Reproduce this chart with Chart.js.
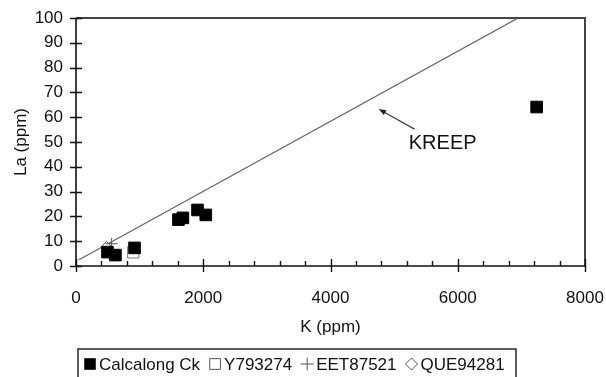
<!DOCTYPE html>
<html>
<head>
<meta charset="utf-8">
<script src="https://cdn.jsdelivr.net/npm/chart.js@4/dist/chart.umd.min.js"></script>
<style>
    html, body { margin: 0; padding: 0; background: #fff; }
    #wrap { width: 606px; height: 377px; }
</style>
</head>
<body>
<div id="wrap"><canvas id="chart"></canvas></div>
<script>
// K (ppm) / La (ppm)
const calcalongK = [495, 620, 920, 1610, 1680, 1910, 2040, 7240];
const calcalongLa = [5.6, 4.4, 7.3, 18.7, 19.4, 22.6, 20.6, 64.1];
const y793274K = [900];
const y793274La = [5.5];
const eet87521K = [560];
const eet87521La = [9.0];
const que94281K = [480];
const que94281La = [7.5];
const kreepK = [40, 6950];
const kreepLa = [2.4, 100];

const seriesNames = ['Calcalong Ck', 'Y793274', 'EET87521', 'QUE94281'];
const xTitle = 'K (ppm)';
const yTitle = 'La (ppm)';
const kreepText = 'KREEP';
const kreepTextAt = [5230, 49.6];
const kreepArrowFrom = [5320, 55.2];
const kreepArrowTo = [4756, 63.3];

const FONT = "'Liberation Sans', Arial, sans-serif";

function toXY(k, la) {
    return k.map((v, i) => ({ x: v, y: la[i] }));
}

// axis lines, box border and the crossing ticks
const frame = {
    id: 'frame',
    afterDatasetsDraw(chart) {
        const { ctx, chartArea: a, scales: { x, y } } = chart;
        ctx.save();
        ctx.strokeStyle = '#444';
        ctx.lineWidth = 2;
        ctx.beginPath();
        ctx.moveTo(a.left, a.top);
        ctx.lineTo(a.right, a.top);
        ctx.lineTo(a.right, a.bottom);
        ctx.stroke();

        ctx.strokeStyle = '#111';
        ctx.lineWidth = 1.6;
        ctx.beginPath();
        ctx.moveTo(a.left, a.top);
        ctx.lineTo(a.left, a.bottom);
        ctx.lineTo(a.right, a.bottom);
        ctx.stroke();

        ctx.lineWidth = 1.4;
        ctx.beginPath();
        for (let v = 0; v <= 100; v += 10) {
            const py = Math.round(y.getPixelForValue(v)) + 0.5;
            ctx.moveTo(a.left - 6, py);
            ctx.lineTo(a.left + 6, py);
        }
        for (let v = 0; v <= 8000; v += 400) {
            const px = Math.round(x.getPixelForValue(v)) + 0.5;
            if (v % 2000 === 0) {
                ctx.moveTo(px, a.bottom - 7);
                ctx.lineTo(px, a.bottom + 6);
            } else {
                ctx.moveTo(px, a.bottom - 5);
                ctx.lineTo(px, a.bottom);
            }
        }
        ctx.stroke();

        // KREEP label and arrow
        const tx = x.getPixelForValue(kreepTextAt[0]);
        const ty = y.getPixelForValue(kreepTextAt[1]);
        ctx.fillStyle = '#111';
        ctx.font = '20px ' + FONT;
        ctx.textAlign = 'left';
        ctx.textBaseline = 'middle';
        ctx.fillText(kreepText, tx, ty);

        const fx = x.getPixelForValue(kreepArrowFrom[0]);
        const fy = y.getPixelForValue(kreepArrowFrom[1]);
        const ex = x.getPixelForValue(kreepArrowTo[0]);
        const ey = y.getPixelForValue(kreepArrowTo[1]);
        const ang = Math.atan2(ey - fy, ex - fx);
        ctx.strokeStyle = '#444';
        ctx.lineWidth = 1.3;
        ctx.beginPath();
        ctx.moveTo(fx, fy);
        ctx.lineTo(ex - 4 * Math.cos(ang), ey - 4 * Math.sin(ang));
        ctx.stroke();
        ctx.fillStyle = '#222';
        ctx.beginPath();
        ctx.moveTo(ex, ey);
        ctx.lineTo(ex - 8 * Math.cos(ang - 0.35), ey - 8 * Math.sin(ang - 0.35));
        ctx.lineTo(ex - 8 * Math.cos(ang + 0.35), ey - 8 * Math.sin(ang + 0.35));
        ctx.closePath();
        ctx.fill();
        ctx.restore();
    }
};

// boxed legend under the axis title
const boxLegend = {
    id: 'boxLegend',
    afterDraw(chart) {
        const { ctx } = chart;
        ctx.save();
        ctx.strokeStyle = '#333';
        ctx.lineWidth = 1.6;
        ctx.strokeRect(78, 349, 438, 40);

        ctx.font = '17px ' + FONT;
        ctx.textBaseline = 'middle';
        ctx.textAlign = 'left';
        const cy = 364;
        let cx = 84;
        const marks = [
            { pointStyle: 'rect', radius: 8.2, fill: '#000', stroke: '#000', bw: 0 },
            { pointStyle: 'rect', radius: 7.6, fill: '#fff', stroke: '#555', bw: 1 },
            { pointStyle: 'cross', radius: 6.5, fill: '#fff', stroke: '#555', bw: 1 },
            { pointStyle: 'rectRot', radius: 6, fill: '#fff', stroke: '#555', bw: 1 }
        ];
        seriesNames.forEach((name, i) => {
            const m = marks[i];
            ctx.fillStyle = m.fill;
            ctx.strokeStyle = m.stroke;
            ctx.lineWidth = m.bw || 0.01;
            Chart.helpers.drawPoint(ctx, { pointStyle: m.pointStyle, radius: m.radius, rotation: 0, borderWidth: m.bw }, cx + 6, cy);
            cx += 15;
            ctx.fillStyle = '#111';
            ctx.fillText(name, cx, cy + 1);
            cx += ctx.measureText(name).width + 9;
        });
        ctx.restore();
    }
};

new Chart(document.getElementById('chart'), {
    type: 'scatter',
    data: {
        datasets: [{
            label: seriesNames[0],
            data: toXY(calcalongK, calcalongLa),
            pointStyle: 'rect',
            pointRadius: 8.2,
            backgroundColor: '#000',
            borderColor: '#000',
            borderWidth: 1
        }, {
            label: seriesNames[1],
            data: toXY(y793274K, y793274La),
            pointStyle: 'rect',
            pointRadius: 8,
            backgroundColor: '#fff',
            borderColor: '#777',
            borderWidth: 1
        }, {
            label: seriesNames[2],
            data: toXY(eet87521K, eet87521La),
            pointStyle: 'cross',
            pointRadius: 6,
            borderColor: '#555',
            borderWidth: 1
        }, {
            label: seriesNames[3],
            data: toXY(que94281K, que94281La),
            pointStyle: 'rectRot',
            pointRadius: 6,
            backgroundColor: '#fff',
            borderColor: '#555',
            borderWidth: 1
        }, {
            label: 'KREEP',
            data: toXY(kreepK, kreepLa),
            showLine: true,
            pointRadius: 0,
            borderColor: '#666',
            borderWidth: 1.3
        }]
    },
    options: {
        responsive: true,
        maintainAspectRatio: false,
        animation: false,
        layout: { padding: { top: 18, right: 21, bottom: 36, left: 0 } },
        plugins: {
            legend: { display: false },
            tooltip: { enabled: false }
        },
        scales: {
            x: {
                type: 'linear',
                min: 0,
                max: 8000,
                afterFit: s => { s.height = 75; s.paddingLeft = 0; s.paddingRight = 0; },
                grid: { display: false, drawTicks: false },
                border: { display: false },
                ticks: { stepSize: 2000, padding: 22, color: '#111', font: { family: FONT, size: 17 }, callback: v => String(v) },
                title: { display: true, text: xTitle, color: '#111', padding: { top: 4, bottom: 3 }, font: { family: FONT, size: 17 } }
            },
            y: {
                min: 0,
                max: 100,
                afterFit: s => { s.width = 76; s.paddingTop = 0; s.paddingBottom = 0; },
                grid: { display: false, drawTicks: false },
                border: { display: false },
                ticks: { stepSize: 10, padding: 13, color: '#111', font: { family: FONT, size: 17 } },
                title: { display: true, text: yTitle, color: '#111', padding: { top: 11, bottom: 4 }, font: { family: FONT, size: 17 } }
            }
        }
    },
    plugins: [frame, boxLegend]
});
</script>
</body>
</html>
